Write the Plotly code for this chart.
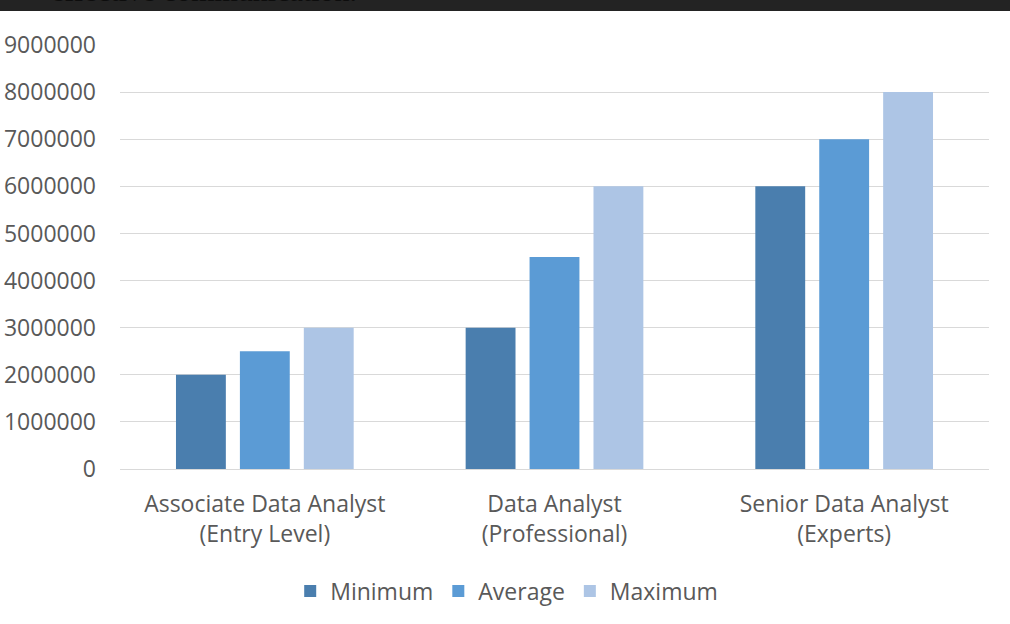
import plotly.graph_objects as go

categories = ["Associate Data Analyst<br>(Entry Level)", "Data Analyst<br>(Professional)", "Senior Data Analyst<br>(Experts)"]
minimum = [2000000, 3000000, 6000000]
average = [2500000, 4500000, 7000000]
maximum = [3000000, 6000000, 8000000]
series_names = ["Minimum", "Average", "Maximum"]
colors = ["#4a7eae", "#5b9bd5", "#adc5e5"]
tick_vals = [0, 1000000, 2000000, 3000000, 4000000, 5000000, 6000000, 7000000, 8000000, 9000000]

font = "Open Sans"
fig = go.Figure()
for name, vals, c in zip(series_names, [minimum, average, maximum], colors):
    fig.add_trace(go.Bar(x=categories, y=vals, name=name, marker=dict(color=c, line=dict(width=0))))

fig.update_layout(
    width=1010, height=624,
    margin=dict(l=120, r=21, t=45, b=155),
    paper_bgcolor="white", plot_bgcolor="white",
    barmode="group", bargap=0.338, bargroupgap=0.22,
    font=dict(family=font, color="#595959", size=20),
    legend=dict(orientation="h", x=0.445, xanchor="center", y=-0.288, yanchor="middle",
                font=dict(size=23, color="#595959"), itemwidth=30, traceorder="normal"),
    showlegend=True,
)
fig.update_yaxes(range=[0, 9000000], tickvals=tick_vals, ticktext=[str(v) for v in tick_vals],
                 showgrid=True, gridcolor="#d9d9d9", gridwidth=1.3, zeroline=True, zerolinecolor="#d9d9d9",
                 zerolinewidth=1.3, showline=False, ticks="", ticklabelstandoff=23, automargin=False,
                 tickfont=dict(size=23, color="#595959"))
fig.update_xaxes(showline=False, ticks="", tickfont=dict(size=23, color="#595959"), ticklabelstandoff=19,
                 automargin=False)

fig.add_shape(type="rect", xref="paper", yref="paper", x0=-0.2, x1=1.1, y0=1.0802, y1=1.2,
              fillcolor="#232323", line=dict(width=0), layer="above")
fig.add_annotation(text="effective communication.", xref="paper", yref="paper",
                   x=-0.0818, xanchor="left", y=1.085, yanchor="bottom", showarrow=False,
                   font=dict(family="Liberation Serif", size=30, color="#0d0d0d"))

fig.write_html("out.html", config={"displayModeBar": False},
               post_script="document.body.style.margin='0';document.body.style.overflow='hidden';")
